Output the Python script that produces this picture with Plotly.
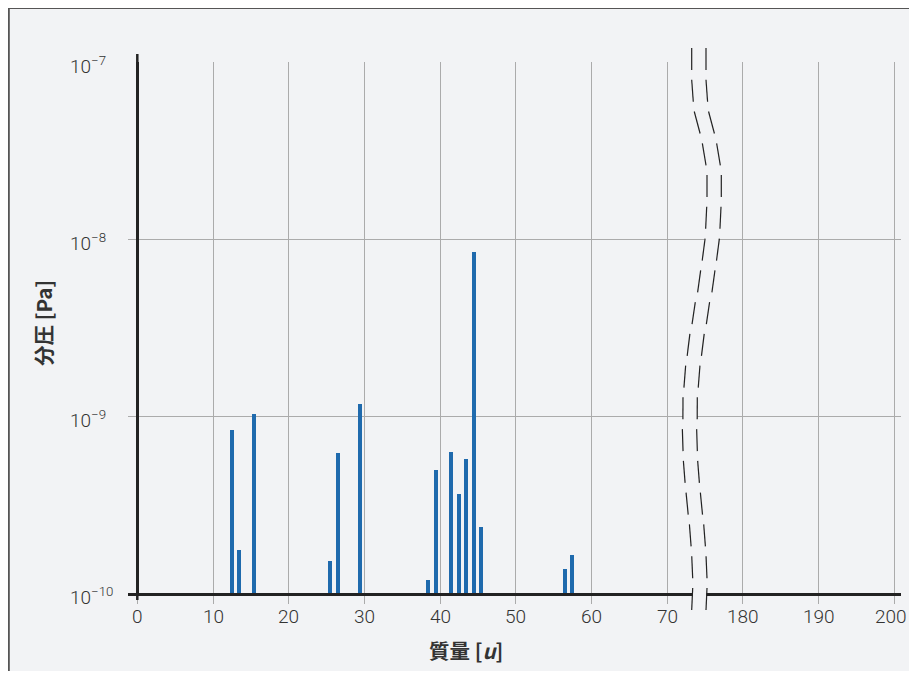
import numpy as np
import plotly.graph_objects as go

# ---- data ----
masses = [12, 13, 15, 25, 26, 29, 38, 39, 41, 42, 43, 44, 45, 56, 57]
pressures = [8.3e-10, 1.75e-10, 1.02e-9, 1.51e-10, 6.2e-10, 1.17e-9, 1.19e-10,
             4.95e-10, 6.27e-10, 3.62e-10, 5.72e-10, 8.47e-9, 2.35e-10, 1.37e-10, 1.65e-10]
x_tick_masses = [0, 10, 20, 30, 40, 50, 60, 70, 180, 190, 200]
x_tick_labels = ["0", "10", "20", "30", "40", "50", "60", "70", "180", "190", "200"]
y_tick_vals = [1e-10, 1e-9, 1e-8, 1e-7]
y_tick_labels = ["10<sup>−10</sup>", "10<sup>−9</sup>", "10<sup>−8</sup>", "10<sup>−7</sup>"]

BREAK_LO, BREAK_HI = 70, 180   # hidden mass span between 70 and 180 (shown as 10 units)


def axis_pos(m):
    return m if m <= BREAK_LO else m - (BREAK_HI - BREAK_LO) + 10


# page has an 8px body margin: work in screenshot pixels, shift by OX/OY
OX, OY = 8, 8
W, H = 917 - 2 * OX, 679 - 2 * OY
BG = "#f2f3f5"
BAR = "#1f6aad"
GRID = "#ababab"
AX = "#222222"
FONT = "Roboto"
TXT = "#333333"


def fx(x):
    return x - OX


def fy(y):
    return y - OY


# plot area in screenshot pixels
L, R, T, B = 128, 901, 62, 593
x0px, ppu = 137.3, 7.57
xr = [(L - x0px) / ppu, (R - x0px) / ppu]

fig = go.Figure()

fig.add_trace(go.Bar(
    x=[axis_pos(m) for m in masses], y=pressures,
    width=0.52, offset=0.2, marker=dict(color=BAR, line=dict(width=0)),
    xaxis="x", yaxis="y", showlegend=False, hoverinfo="x+y"))

# ---- axis break decoration (pixel coordinates on overlay axes) ----
by = [45, 48, 70, 80, 102, 112, 133, 143, 165, 175, 197, 207, 228, 240, 260, 270, 292, 302, 323,
      333, 355, 365, 387, 397, 418, 428, 450, 460, 482, 492, 513, 523, 545, 555, 578, 588, 610, 613]
bx = [691.7, 691.7, 691.7, 691.7, 693.3, 694.3, 700, 702.3, 706, 707, 707, 706.7, 705.7, 705, 702.3,
      700.7, 697.7, 695.3, 692.3, 690, 687.3, 685.7, 684, 683, 683, 682.3, 683, 683.3, 685, 686, 688,
      689.3, 691, 691.7, 692.7, 692.7, 691.7, 691.6]
gapw = 14.3
yy = np.linspace(45, 613, 400)
xl = np.interp(yy, by, bx)
xrr = xl + gapw
fig.add_trace(go.Scatter(
    x=fx(np.concatenate([xl, xrr[::-1]])), y=fy(np.concatenate([yy, yy[::-1]])),
    fill="toself", fillcolor=BG, line=dict(width=0), mode="lines",
    xaxis="x2", yaxis="y2", showlegend=False, hoverinfo="skip"))

for off in (0.0, gapw):
    dx, dy = [], []
    for k in range(18):
        s = 48 + 31.76 * k
        seg = np.linspace(s, s + 22, 8)
        dx += list(fx(np.interp(seg, by, bx) + off)) + [None]
        dy += list(fy(seg)) + [None]
    fig.add_trace(go.Scatter(x=dx, y=dy, mode="lines",
                             line=dict(color=AX, width=1.2),
                             xaxis="x2", yaxis="y2", showlegend=False, hoverinfo="skip"))

tickfont = dict(family=FONT, size=19, color=TXT, weight=300)
annotations = []
# y tick labels (left aligned)
for v, t in zip(y_tick_vals, y_tick_labels):
    annotations.append(dict(x=fx(68), xref="x2", y=np.log10(v), yref="y", text=t,
                            showarrow=False, xanchor="left", yanchor="middle", yshift=-3,
                            font=tickfont))
# x tick labels (kept inside the page)
for i, (m, t) in enumerate(zip(x_tick_masses, x_tick_labels)):
    last = i == len(x_tick_masses) - 1
    annotations.append(dict(x=axis_pos(m), xref="x", y=fy(616), yref="y2", text=t,
                            showarrow=False, xanchor="center", yanchor="middle",
                            xshift=-3 if last else 0, font=tickfont))
annotations.append(dict(x=fx(43), xref="x2", y=fy(323), yref="y2", text="<b>分圧 [Pa]</b>",
                        textangle=-90, showarrow=False,
                        font=dict(family="Noto Sans CJK JP", size=20.5, color=TXT)))
annotations.append(dict(x=fx(466), xref="x2", y=fy(650), yref="y2", text="<b>質量 [<i>u</i>]</b>",
                        showarrow=False,
                        font=dict(family="Noto Sans CJK JP", size=20.5, color=TXT)))

shapes = [
    dict(type="rect", xref="paper", yref="paper", x0=0.8 / W, y0=-0.05, x1=1.05, y1=1.0,
         layer="below", fillcolor="rgba(0,0,0,0)", line=dict(color="#555555", width=2)),
    # y axis stub above the plot area and below baseline
    dict(type="line", xref="x", yref="y2", x0=0, x1=0, y0=fy(54), y1=fy(T), line=dict(color=AX, width=2.5)),
    dict(type="line", xref="x", yref="y2", x0=0, x1=0, y0=fy(B), y1=fy(600), line=dict(color=AX, width=2.5)),
]

fig.update_layout(
    width=W, height=H, margin=dict(l=0, r=0, t=0, b=0),
    paper_bgcolor=BG, plot_bgcolor="rgba(0,0,0,0)",
    bargap=0,
    xaxis=dict(domain=[fx(L) / W, min(1.0, fx(R) / W)], range=xr, anchor="y",
               tickvals=[axis_pos(m) for m in x_tick_masses], showticklabels=False,
               showgrid=True, gridcolor=GRID, gridwidth=1,
               zeroline=True, zerolinecolor=AX, zerolinewidth=2.5,
               showline=True, linecolor=AX, linewidth=2.5,
               ticks="outside", ticklen=8, tickcolor=GRID, tickwidth=1,
               fixedrange=True),
    yaxis=dict(domain=[1 - fy(B) / H, 1 - fy(T) / H], type="log", range=[-10, -7], anchor="x",
               tickvals=y_tick_vals, showticklabels=False,
               showgrid=True, gridcolor=GRID, gridwidth=1,
               zeroline=False, showline=False, ticks="", fixedrange=True),
    xaxis2=dict(domain=[0, 1], range=[0, W], visible=False, anchor="y2", fixedrange=True),
    yaxis2=dict(domain=[0, 1], range=[H, 0], visible=False, anchor="x2", fixedrange=True),
    annotations=annotations, shapes=shapes,
)

fig.write_html("out.html")
